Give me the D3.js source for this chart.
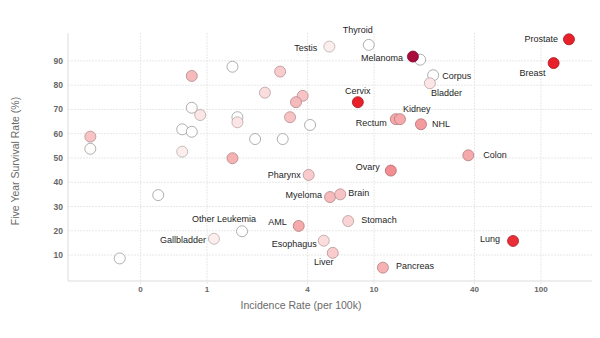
<!DOCTYPE html>
<html>
<head>
<meta charset="utf-8">
<script src="https://cdn.jsdelivr.net/npm/d3@7"></script>
<style>
  body { margin: 0; background: #fff; }
  svg { font-family: "Liberation Sans", Arial, sans-serif; }
</style>
</head>
<body>
<svg id="chart" width="600" height="338"></svg>
<script>
// cancer sites: incidence (per 100k), five year survival (%), shade 0..1
var names = ["Thyroid", "Testis", "Melanoma", "Corpus", "Bladder", "Prostate", "Breast", "Cervix",
  "Rectum", "Kidney", "NHL", "Colon", "Ovary", "Pharynx", "Myeloma", "Brain", "Other Leukemia",
  "AML", "Stomach", "Gallbladder", "Esophagus", "Liver", "Lung", "Pancreas"];
var incidence = [9.3, 5.4, 17.1, 22.6, 21.6, 147, 119, 8.0,
  13.5, 14.3, 19.1, 36.7, 12.6, 4.06, 5.45, 6.28, 1.62,
  3.54, 7.0, 1.10, 5.0, 5.66, 68, 11.3];
var survival = [96.6, 95.9, 91.8, 84.1, 80.8, 98.9, 89.1, 73.0,
  66.0, 66.0, 63.9, 51.1, 44.8, 43.0, 33.9, 35.0, 19.8,
  22.0, 24.0, 16.7, 15.9, 10.9, 15.8, 4.8];
var shade = [0, 0.1, 1, 0, 0.15, 1, 1, 1,
  0.5, 0.5, 0.55, 0.5, 0.6, 0.3, 0.4, 0.35, 0,
  0.5, 0.25, 0.1, 0.2, 0.3, 0.95, 0.45];

// unlabeled sites
var otherIncidence = [0.2, 0.2, 0.81, 0.81, 0.91, 0.71, 0.81, 0.71, 1.42, 2.74, 2.22, 3.74,
  3.41, 1.52, 1.52, 3.14, 4.14, 1.94, 2.84, 1.42, 0.51, 0.3, 18.9];
var otherSurvival = [58.8, 53.8, 83.8, 70.7, 67.7, 61.8, 60.8, 52.6, 87.6, 85.6, 76.9, 75.6,
  73.0, 66.8, 64.7, 66.8, 63.6, 57.8, 57.8, 49.9, 34.7, 8.6, 90.5];
var otherShade = [0.35, 0.02, 0.4, 0.02, 0.15, 0, 0, 0.1, 0, 0.3, 0.2, 0.35,
  0.4, 0, 0.15, 0.35, 0, 0, 0, 0.45, 0, 0, 0];

var xTicks = [0.4, 1, 4, 10, 40, 100];
var xTickLabels = ["0", "1", "4", "10", "40", "100"];
var yTicks = [10, 20, 30, 40, 50, 60, 70, 80, 90];

var highlight = "Melanoma";

// label placement: [text-anchor, dx, dy]
var labelPos = {
  "Thyroid": ["middle", -11, -12],
  "Testis": ["end", -12, 4],
  "Melanoma": ["end", -10, 4],
  "Corpus": ["start", 9, 4],
  "Bladder": ["start", 1, 13],
  "Prostate": ["end", -11, 3],
  "Breast": ["end", -8, 13],
  "Cervix": ["middle", 0, -8],
  "Rectum": ["end", -9, 7],
  "Kidney": ["start", 3, -7],
  "NHL": ["start", 11, 3],
  "Colon": ["start", 15, 3],
  "Ovary": ["end", -11, -1],
  "Pharynx": ["end", -8, 3],
  "Myeloma": ["end", -8, 1],
  "Brain": ["start", 8, 2],
  "Other Leukemia": ["middle", -18, -9],
  "AML": ["end", -12, -1],
  "Stomach": ["start", 13, 2],
  "Gallbladder": ["end", -8, 4],
  "Esophagus": ["end", -7, 6],
  "Liver": ["middle", -9, 12],
  "Lung": ["end", -13, 1],
  "Pancreas": ["start", 13, 1]
};

var margin = {top: 33, right: 8, bottom: 57, left: 68},
  width = 600 - margin.left - margin.right,
  height = 338 - margin.top - margin.bottom;

var svg = d3.select("#chart");
var g = svg.append("g")
  .attr("transform", "translate(" + margin.left + "," + margin.top + ")");

var x = d3.scaleLog().domain([0.147, 202]).range([0, width]);
var y = d3.scaleLinear().domain([-0.7, 101.5]).range([height, 0]);

var color = d3.scaleLinear()
  .domain([0, 0.5, 1])
  .range(["#ffffff", "#f5a9ab", "#e8202a"]);

// grid
g.selectAll(".hgrid")
  .data(yTicks)
  .enter().append("line")
  .attr("x1", 0).attr("x2", width)
  .attr("y1", function(d) { return y(d); })
  .attr("y2", function(d) { return y(d); })
  .attr("stroke", "#e8e8e8")
  .attr("stroke-dasharray", "2,1");

g.selectAll(".vgrid")
  .data(xTicks)
  .enter().append("line")
  .attr("x1", function(d) { return x(d); })
  .attr("x2", function(d) { return x(d); })
  .attr("y1", 0).attr("y2", height + 3)
  .attr("stroke", "#e8e8e8")
  .attr("stroke-dasharray", "2,1");

// axes lines
g.append("line").attr("x1", 0).attr("x2", 0).attr("y1", 0).attr("y2", height)
  .attr("stroke", "#dcdcdc");
g.append("line").attr("x1", 0).attr("x2", width).attr("y1", height).attr("y2", height)
  .attr("stroke", "#dcdcdc");

// tick labels
g.selectAll(".xlab")
  .data(xTicks)
  .enter().append("text")
  .attr("x", function(d) { return x(d); })
  .attr("y", height + 11)
  .attr("text-anchor", "middle")
  .attr("font-size", 8)
  .attr("font-weight", "bold")
  .attr("fill", "#666")
  .text(function(d, i) { return xTickLabels[i]; });

g.selectAll(".ylab")
  .data(yTicks)
  .enter().append("text")
  .attr("x", -5)
  .attr("y", function(d) { return y(d) + 3; })
  .attr("text-anchor", "end")
  .attr("font-size", 8.5)
  .attr("font-weight", "bold")
  .attr("fill", "#666")
  .text(function(d) { return d; });

// axis titles
svg.append("text")
  .attr("x", 301)
  .attr("y", 309)
  .attr("text-anchor", "middle")
  .attr("font-size", 10.5)
  .attr("fill", "#6a6a6a")
  .text("Incidence Rate (per 100k)");

svg.append("text")
  .attr("transform", "translate(19,161) rotate(-90)")
  .attr("text-anchor", "middle")
  .attr("font-size", 10.5)
  .attr("fill", "#6a6a6a")
  .text("Five Year Survival Rate (%)");

// points
var others = otherIncidence.map(function(d, i) {
  return {name: "", inc: d, surv: otherSurvival[i], shade: otherShade[i]};
});
var sites = names.map(function(d, i) {
  return {name: d, inc: incidence[i], surv: survival[i], shade: shade[i]};
});
var points = others.concat(sites.filter(function(d) { return d.name != highlight; }))
  .concat(sites.filter(function(d) { return d.name == highlight; }));

function fillOf(d) {
  if (d.name == highlight) return "#a80d3e";
  return color(d.shade);
}

g.selectAll("circle")
  .data(points)
  .enter().append("circle")
  .attr("cx", function(d) { return x(d.inc); })
  .attr("cy", function(d) { return y(d.surv); })
  .attr("r", 5.5)
  .attr("fill", fillOf)
  .attr("stroke", function(d) {
    if (d.shade < 0.05) return "#9a9a9a";
    return d3.color(fillOf(d)).darker(0.9);
  })
  .attr("stroke-width", 0.8);

// labels
g.selectAll(".label")
  .data(sites)
  .enter().append("text")
  .attr("x", function(d) { return x(d.inc) + labelPos[d.name][1]; })
  .attr("y", function(d) { return y(d.surv) + labelPos[d.name][2]; })
  .attr("text-anchor", function(d) { return labelPos[d.name][0]; })
  .attr("font-size", 9)
  .attr("fill", "#1e1e1e")
  .text(function(d) { return d.name; });
</script>
</body>
</html>
